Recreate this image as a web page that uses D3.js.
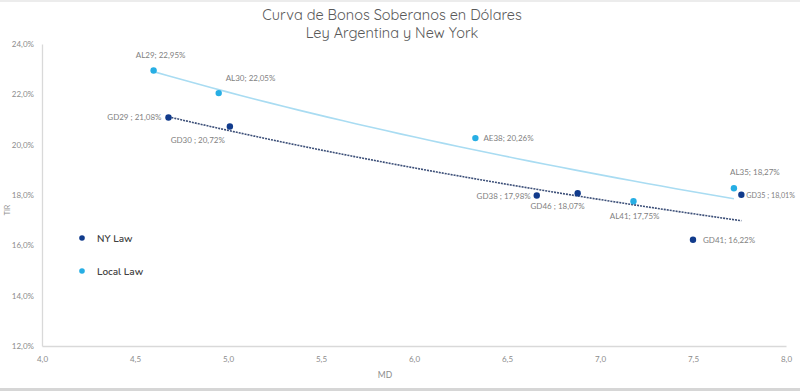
<!DOCTYPE html>
<html>
<head>
<meta charset="utf-8">
<script src="https://cdn.jsdelivr.net/npm/d3@7"></script>
<style>
  html, body { margin: 0; padding: 0; background: #fff; }
  svg { display: block; }
</style>
</head>
<body>
<svg id="chart" width="800" height="391"></svg>
<script>
// ---- data ----
const nyBonds = ["GD29", "GD30", "GD38", "GD46", "GD35", "GD41"];
const nyMD    = [4.68, 5.01, 6.66, 6.88, 7.76, 7.50];
const nyTIR   = [21.08, 20.72, 17.98, 18.07, 18.01, 16.22];

const localBonds = ["AL29", "AL30", "AE38", "AL41", "AL35"];
const localMD    = [4.60, 4.95, 6.33, 7.18, 7.72];
const localTIR   = [22.95, 22.05, 20.26, 17.75, 18.27];

const xTicks = [4.0, 4.5, 5.0, 5.5, 6.0, 6.5, 7.0, 7.5, 8.0];
const yTicks = [12, 14, 16, 18, 20, 22, 24];

const seriesNames = ["NY Law", "Local Law"];
const titleLines = ["Curva de Bonos Soberanos en Dólares", "Ley Argentina y New York"];

// ---- label placement (layout only) ----
const nyLabelPos = {
  GD29: {dx: -7, dy: 3, anchor: "end"},
  GD30: {dx: -5, dy: 16, anchor: "end"},
  GD38: {dx: -6, dy: 3, anchor: "end"},
  GD46: {dx: 7, dy: 16, anchor: "end"},
  GD35: {dx: 5, dy: 3, anchor: "start", fs: 7.2},
  GD41: {dx: 10, dy: 3, anchor: "start"}
};
const localLabelPos = {
  AL29: {dx: 7, dy: -12, anchor: "middle"},
  AL30: {dx: 7, dy: -12, anchor: "start"},
  AE38: {dx: 8, dy: 3, anchor: "start"},
  AL41: {dx: 26, dy: 18, anchor: "end"},
  AL35: {dx: 21, dy: -13, anchor: "middle"}
};

const fmt = v => v.toFixed(2).replace(".", ",") + "%";
const fmtTick1 = v => v.toFixed(1).replace(".", ",");

const svg = d3.select("#chart");
const W = 800, H = 391;

// frame lines (screenshot edges)
svg.append("rect").attr("x", 0).attr("y", 0).attr("width", W).attr("height", 2).attr("fill", "#ececec");
svg.append("rect").attr("x", 0).attr("y", 388).attr("width", W).attr("height", 3).attr("fill", "#d6d6d6");

const x = d3.scaleLinear().domain([4, 8]).range([42, 786]);
const y = d3.scaleLinear().domain([12, 24]).range([346, 44]);

// title
const fontFam = "'Quicksand', 'Nunito', 'Lato', 'Open Sans', sans-serif";
svg.selectAll("text.title").data(titleLines).enter().append("text")
  .attr("class", "title")
  .attr("x", 392).attr("y", (d, i) => 20 + i * 18)
  .attr("text-anchor", "middle")
  .attr("font-family", fontFam)
  .attr("font-size", 14.5)
  .attr("fill", "#595959")
  .text(d => d);

// axes
const xAxis = d3.axisBottom(x).tickValues(xTicks).tickFormat(fmtTick1).tickSize(0).tickPadding(10);
const yAxis = d3.axisLeft(y).tickValues(yTicks).tickFormat(v => v.toFixed(1).replace(".", ",") + "%").tickSize(0).tickPadding(8);

const gx = svg.append("g").attr("transform", `translate(0,${y(12)})`).call(xAxis);
const gy = svg.append("g").attr("transform", `translate(${x(4)},0)`).call(yAxis);
[gx, gy].forEach(g => {
  g.select(".domain").attr("stroke", "#d9d9d9").attr("stroke-width", 1.3);
  g.selectAll("text").attr("fill", "#8c8c8c").attr("font-family", "'Lato', sans-serif").attr("font-size", 8);
});
gy.selectAll("text").attr("dy", "0.32em");

// axis titles
svg.append("text").attr("x", 385).attr("y", 378).attr("text-anchor", "middle")
  .attr("font-family", "'Lato', sans-serif").attr("font-size", 8.5).attr("fill", "#8c8c8c").text("MD");
svg.append("text").attr("transform", "translate(10,210) rotate(-90)").attr("text-anchor", "middle")
  .attr("font-family", "'Lato', sans-serif").attr("font-size", 7).attr("fill", "#8c8c8c").text("TIR");

// logarithmic trendline (least squares on ln(MD))
function logFit(xs, ys) {
  const n = xs.length;
  const lx = xs.map(Math.log);
  const mx = d3.mean(lx), my = d3.mean(ys);
  let sxy = 0, sxx = 0;
  for (let i = 0; i < n; i++) { sxy += (lx[i] - mx) * (ys[i] - my); sxx += (lx[i] - mx) ** 2; }
  const b = sxy / sxx, a = my - b * mx;
  return v => a + b * Math.log(v);
}
function trend(xs, ys, color, dash, width) {
  const f = logFit(xs, ys);
  const [lo, hi] = d3.extent(xs);
  const pts = d3.range(0, 41).map(i => { const v = lo + (hi - lo) * i / 40; return [v, f(v)]; });
  svg.append("path")
    .attr("d", d3.line().x(d => x(d[0])).y(d => y(d[1]))(pts))
    .attr("fill", "none").attr("stroke", color).attr("stroke-width", width)
    .attr("stroke-dasharray", dash);
}
const nyColor = "#113b8c";
const localColor = "#27aee4";
trend(localMD, localTIR, "#a9dcf2", null, 1.6);
trend(nyMD, nyTIR, "#3c4f78", "2,1", 1.6);

// points and labels
function drawSeries(names, xs, ys, color, pos) {
  const data = names.map((n, i) => ({n, x: xs[i], y: ys[i]}));
  svg.append("g").selectAll("circle").data(data).enter().append("circle")
    .attr("cx", d => x(d.x)).attr("cy", d => y(d.y)).attr("r", 3.2).attr("fill", color);
  svg.append("g").selectAll("text").data(data).enter().append("text")
    .attr("x", d => x(d.x) + pos[d.n].dx).attr("y", d => y(d.y) + pos[d.n].dy)
    .attr("text-anchor", d => pos[d.n].anchor)
    .attr("font-family", "'Lato', sans-serif").attr("font-size", d => pos[d.n].fs || 8).attr("fill", "#7f7f7f")
    .text(d => d.n + (d.n.startsWith("GD") && d.n !== "GD41" ? " ; " : "; ") + fmt(d.y));
}
drawSeries(nyBonds, nyMD, nyTIR, nyColor, nyLabelPos);
drawSeries(localBonds, localMD, localTIR, localColor, localLabelPos);

// legend
const legend = svg.append("g").attr("transform", "translate(82,238)");
[nyColor, localColor].forEach((c, i) => {
  const g = legend.append("g").attr("transform", `translate(0,${i * 33})`);
  g.append("circle").attr("r", 2.8).attr("fill", c);
  g.append("text").attr("x", 15).attr("dy", "0.35em")
    .attr("font-family", "'Nunito', 'Lato', sans-serif").attr("font-size", 10).attr("font-weight", 600)
    .attr("fill", "#404040").text(seriesNames[i]);
});
</script>
</body>
</html>
